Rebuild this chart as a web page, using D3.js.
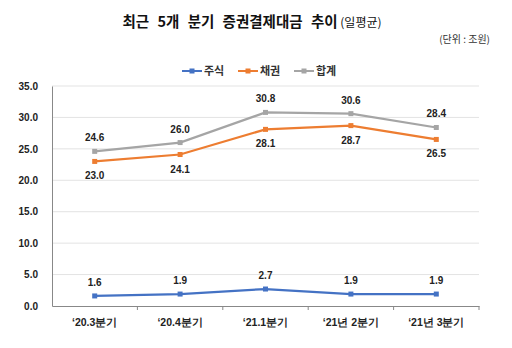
<!DOCTYPE html>
<html>
<head>
<meta charset="utf-8">
<script src="https://cdn.jsdelivr.net/npm/d3@7"></script>
<style>
  body { margin: 0; background: #fff; }
  svg { font-family: "Noto Sans CJK KR", "Noto Sans", sans-serif; }
</style>
</head>
<body>
<svg id="chart" width="512" height="348"></svg>
<script>
const quarters = ["\u201820.3분기", "\u201820.4분기", "\u201821.1분기", "\u201821년 2분기", "\u201821년 3분기"];
const stocks = [1.6, 1.9, 2.7, 1.9, 1.9];
const bonds = [23.0, 24.1, 28.1, 28.7, 26.5];
const totals = [24.6, 26.0, 30.8, 30.6, 28.4];
const yTicks = [0, 5, 10, 15, 20, 25, 30, 35];

const seriesList = [
    { name: "주식", values: stocks, color: "#4472C4", labelPos: "above" },
    { name: "채권", values: bonds, color: "#ED7D31", labelPos: "below" },
    { name: "합계", values: totals, color: "#A5A5A5", labelPos: "above" }
];

const svg = d3.select("#chart");
const margin = { left: 52, right: 33, top: 86, bottom: 42 };
const width = 512 - margin.left - margin.right;
const height = 348 - margin.top - margin.bottom;

// title
const title = svg.append("text")
    .attr("x", 252).attr("y", 27)
    .attr("text-anchor", "middle")
    .style("fill", "#111");
title.append("tspan").text("최근 5개 분기 증권결제대금 추이")
    .style("font-size", "14.5px").style("font-weight", "bold")
    .style("word-spacing", "5px");
title.append("tspan").text(" (일평균)")
    .style("font-size", "12px");

svg.append("text")
    .attr("x", 490).attr("y", 43)
    .attr("text-anchor", "end")
    .style("font-size", "10px")
    .style("fill", "#333")
    .text("(단위 : 조원)");

const g = svg.append("g").attr("transform", `translate(${margin.left},${margin.top})`);

const x = d3.scaleBand().domain(quarters).range([0, width]);
const y = d3.scaleLinear().domain([0, 35]).range([height, 0]);

// gridlines
g.append("g")
    .selectAll("line")
    .data(yTicks.filter(d => d > 0))
    .enter().append("line")
    .attr("x1", 0).attr("x2", width)
    .attr("y1", d => y(d)).attr("y2", d => y(d))
    .style("stroke", "#e3e3e3");

// y axis
const yAxis = g.append("g")
    .call(d3.axisLeft(y).tickValues(yTicks).tickFormat(d3.format(".1f")).tickSize(0).tickPadding(14));
yAxis.select(".domain").style("stroke", "#888");
yAxis.selectAll("text")
    .style("font-size", "10px").style("font-weight", "bold")
    .style("fill", "#222")
    .style("font-family", "Liberation Sans, Arial, sans-serif");

// x axis
const xAxis = g.append("g")
    .attr("transform", `translate(0,${height})`)
    .call(d3.axisBottom(x).tickSize(0).tickPadding(13));
xAxis.select(".domain").style("stroke", "#888");
xAxis.selectAll("text")
    .style("font-size", "10.5px").style("font-weight", "bold")
    .style("fill", "#222");
// tick marks at band boundaries
xAxis.selectAll(".bnd")
    .data(quarters)
    .enter().append("line")
    .attr("x1", d => x(d) + x.bandwidth()).attr("x2", d => x(d) + x.bandwidth())
    .attr("y1", 0).attr("y2", 4)
    .style("stroke", "#888");

const line = d3.line()
    .x((d, i) => x(quarters[i]) + x.bandwidth() / 2)
    .y(d => y(d));

seriesList.forEach(s => {
    g.append("path")
        .datum(s.values)
        .attr("d", line)
        .style("fill", "none")
        .style("stroke", s.color)
        .style("stroke-width", 2.2);

    g.selectAll(null)
        .data(s.values)
        .enter().append("rect")
        .attr("x", (d, i) => x(quarters[i]) + x.bandwidth() / 2 - 2.5)
        .attr("y", d => y(d) - 2.5)
        .attr("width", 5).attr("height", 5)
        .style("fill", s.color);

    g.selectAll(null)
        .data(s.values)
        .enter().append("text")
        .attr("x", (d, i) => x(quarters[i]) + x.bandwidth() / 2)
        .attr("y", d => s.labelPos === "above" ? y(d) - 10 : y(d) + 18)
        .attr("text-anchor", "middle")
        .style("font-size", "10px").style("font-weight", "bold")
        .style("fill", "#222")
        .style("font-family", "Liberation Sans, Arial, sans-serif")
        .text(d => d.toFixed(1));
});

// legend
const legend = svg.append("g").attr("transform", "translate(182,71)");
const itemX = [0, 56, 112];
seriesList.forEach((s, i) => {
    const it = legend.append("g").attr("transform", `translate(${itemX[i]},0)`);
    it.append("line").attr("x1", 0).attr("x2", 20).attr("y1", 0).attr("y2", 0)
        .style("stroke", s.color).style("stroke-width", 2);
    it.append("rect").attr("x", 7.5).attr("y", -2.5).attr("width", 5).attr("height", 5)
        .style("fill", s.color);
    it.append("text").attr("x", 22).attr("y", 4)
        .style("font-size", "11px").style("font-weight", "bold")
        .style("fill", "#333")
        .text(s.name);
});
</script>
</body>
</html>
